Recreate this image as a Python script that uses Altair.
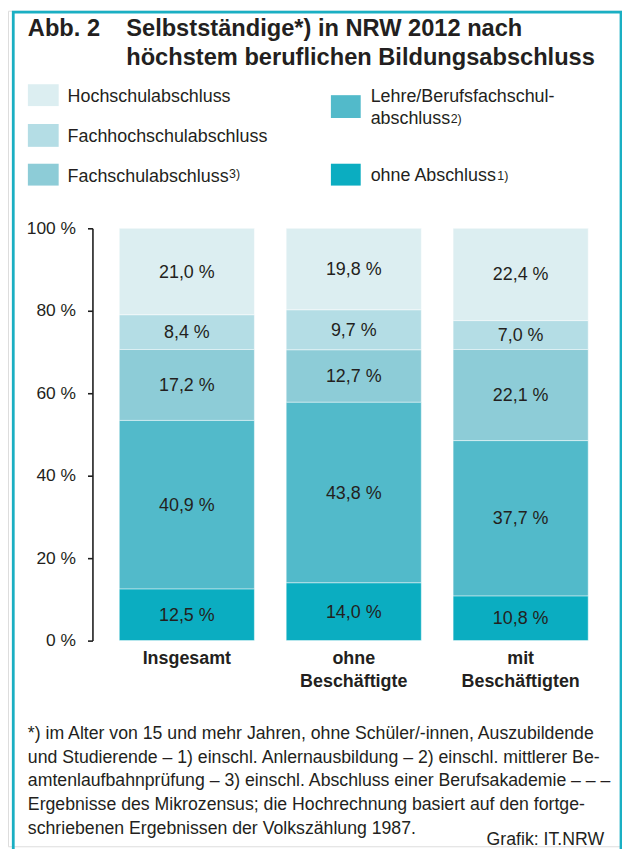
import altair as alt
import pandas as pd

# ---------------- data ----------------
groups = ["Insgesamt", "ohne Beschäftigte", "mit Beschäftigten"]
categories = [
    "Hochschulabschluss",
    "Fachhochschulabschluss",
    "Fachschulabschluss",
    "Lehre/Berufsfachschulabschluss",
    "ohne Abschluss",
]
hochschul = [21.0, 19.8, 22.4]
fachhochschul = [8.4, 9.7, 7.0]
fachschul = [17.2, 12.7, 22.1]
lehre = [40.9, 43.8, 37.7]
ohne = [12.5, 14.0, 10.8]
colors = ["#DCEEF1", "#B4DDE5", "#8DCCD7", "#52BACA", "#0BADC1"]
y_ticks = [0, 20, 40, 60, 80, 100]

title_lines = ["Selbstständige*) in NRW 2012 nach", "höchstem beruflichen Bildungsabschluss"]
footnote_lines = [
    "*) im Alter von 15 und mehr Jahren, ohne Schüler/-innen, Auszubildende",
    "und Studierende – 1) einschl. Anlernausbildung – 2) einschl. mittlerer Be-",
    "amtenlaufbahnprüfung – 3) einschl. Abschluss einer Berufsakademie – – –",
    "Ergebnisse des Mikrozensus; die Hochrechnung basiert auf den fortge-",
    "schriebenen Ergebnissen der Volkszählung 1987.",
]
source_text = "Grafik: IT.NRW"

# ---------------- styles ----------------
FONT = "Liberation Sans"
TXT = "#231F20"
FRAME = "#1AAFC3"
W, H = 618, 841

series = [hochschul, fachhochschul, fachschul, lehre, ohne]
rows = []
for ci, (cat, vals) in enumerate(zip(categories, series)):
    for gi, g in enumerate(groups):
        v = vals[gi]
        rows.append({
            "group": g,
            "category": cat,
            "value": v,
            "stackorder": len(categories) - ci,  # bottom: ohne Abschluss
            "label": f"{v:.1f}".replace(".", ",") + " %",
        })
df = pd.DataFrame(rows)

x_scale = alt.Scale(domain=groups, range=[112, 584], paddingInner=0.1905, paddingOuter=0)
y_scale = alt.Scale(domain=[0, 100], range=[634, 219])
color_scale = alt.Scale(domain=categories, range=colors)

base = alt.Chart(df).transform_stack(
    stack="value", groupby=["group"], as_=["y0", "y1"],
    sort=[alt.SortField("stackorder", order="ascending")],
).transform_calculate(mid="(datum.y0 + datum.y1) / 2")

bars = base.mark_bar(stroke="#ffffff", strokeWidth=0.8, strokeOpacity=0.6).encode(
    x=alt.X("group:N", sort=groups, scale=x_scale, axis=alt.Axis(
        orient="bottom", offset=634 - H, domain=False, ticks=False, tickSize=0,
        labelPadding=23, labelBaseline="alphabetic", labelAngle=0,
        labelExpr="split(datum.label, ' ')", labelLineHeight=23,
        labelFont=FONT, labelFontSize=18, labelFontWeight="bold", labelColor=TXT,
        title=None)),
    y=alt.Y("y0:Q", scale=y_scale, axis=alt.Axis(
        values=y_ticks, labelExpr="datum.value + ' %'", offset=-85,
        tickSize=5, tickWidth=1.6, tickColor="#1E1E1E",
        domainWidth=1.6, domainColor="#1E1E1E", grid=False,
        labelPadding=12, labelFont=FONT, labelFontSize=17.5, labelColor=TXT,
        title=None)),
    y2="y1:Q",
    color=alt.Color("category:N", scale=color_scale, legend=None),
)

values_text = base.mark_text(font=FONT, fontSize=18, color=TXT, baseline="middle", dy=1).encode(
    x=alt.X("group:N", sort=groups, scale=x_scale),
    y=alt.Y("mid:Q", scale=y_scale),
    text="label:N",
)

# ---------------- legend (drawn by hand, colours from the colour scale) ----------------
AW = {"a": 556, "b": 556, "c": 500, "d": 556, "e": 556, "f": 278, "g": 556, "h": 556, "i": 222,
      "k": 500, "l": 222, "m": 833, "n": 556, "o": 556, "r": 333, "s": 500, "t": 278, "u": 556,
      "A": 667, "B": 667, "F": 611, "H": 722, "L": 556, " ": 278, "/": 278, "-": 333}


def tw(s, size):
    return sum(AW.get(c, 556) for c in s) * size / 1000.0


col_x = [20, 325]
sw = [31, 30]
leg_layout = {
    "Hochschulabschluss": (0, 74, 96),
    "Fachhochschulabschluss": (0, 114, 137),
    "Fachschulabschluss": (0, 154, 176),
    "Lehre/Berufsfachschulabschluss": (1, 85, 108),
    "ohne Abschluss": (1, 154, 176),
}
leg_rows = []
for cat in categories:
    c, y0, y1 = leg_layout[cat]
    leg_rows.append({"category": cat, "x0": col_x[c], "x1": col_x[c] + sw[c], "y0": y0, "y1": y1})
leg_df = pd.DataFrame(leg_rows)

leg_rects = alt.Chart(leg_df).mark_rect().encode(
    x=alt.X("x0:Q", scale=None), x2="x1:Q",
    y=alt.Y("y0:Q", scale=None), y2="y1:Q",
    color=alt.Color("category:N", scale=color_scale, legend=None),
)

tx = [60, 365]
leg_text_rows = [
    {"t": "Hochschulabschluss", "x": tx[0], "y": 92},
    {"t": "Fachhochschulabschluss", "x": tx[0], "y": 132},
    {"t": "Fachschulabschluss", "x": tx[0], "y": 172},
    {"t": "Lehre/Berufsfachschul-", "x": tx[1], "y": 92},
    {"t": "abschluss", "x": tx[1], "y": 114},
    {"t": "ohne Abschluss", "x": tx[1], "y": 171},
]
leg_text = alt.Chart(pd.DataFrame(leg_text_rows)).mark_text(
    font=FONT, fontSize=18, color=TXT, align="left", baseline="alphabetic").encode(
    x=alt.X("x:Q", scale=None), y=alt.Y("y:Q", scale=None), text="t:N")

sup_rows = [
    {"t": "3)", "x": tx[0] + tw("Fachschulabschluss", 18) + 0.5, "y": 168},
    {"t": "2)", "x": tx[1] + tw("abschluss", 18) + 0.5, "y": 113},
    {"t": "1)", "x": tx[1] + tw("ohne Abschluss", 18) + 0.5, "y": 170},
]
sup_text = alt.Chart(pd.DataFrame(sup_rows)).mark_text(
    font=FONT, fontSize=12.5, color=TXT, align="left", baseline="alphabetic").encode(
    x=alt.X("x:Q", scale=None), y=alt.Y("y:Q", scale=None), text="t:N")

# ---------------- titles, notes, frame ----------------
one = pd.DataFrame({"k": [0]})

abb = alt.Chart(one).mark_text(
    text="Abb. 2", font=FONT, fontSize=23.8, fontWeight="bold", color=TXT,
    align="left", baseline="alphabetic").encode(x=alt.value(20), y=alt.value(25))

title = alt.Chart(one).mark_text(
    text=title_lines, font=FONT, fontSize=23.8, fontWeight="bold", color=TXT,
    align="left", baseline="alphabetic", lineHeight=30).encode(x=alt.value(119), y=alt.value(25))

notes = alt.Chart(one).mark_text(
    text=footnote_lines, font=FONT, fontSize=17.8, color=TXT,
    align="left", baseline="alphabetic", lineHeight=23.8).encode(x=alt.value(20), y=alt.value(733))

source = alt.Chart(one).mark_text(
    text=source_text, font=FONT, fontSize=17.8, color=TXT,
    align="right", baseline="alphabetic").encode(x=alt.value(600), y=alt.value(840))

frame = alt.Chart(one).mark_rect(filled=False, stroke=FRAME, strokeWidth=2.8).encode(
    x=alt.value(5.3), x2=alt.value(617), y=alt.value(1.4), y2=alt.value(H + 40))

chart = alt.layer(
    bars, values_text, leg_rects, leg_text, sup_text, abb, title, notes, source, frame
).properties(
    width=W, height=H, autosize=alt.AutoSizeParams(type="none"), padding=0,
).configure_view(stroke=None).configure(background="white")

chart.save("out.html", embed_options={"renderer": "svg", "actions": False})
